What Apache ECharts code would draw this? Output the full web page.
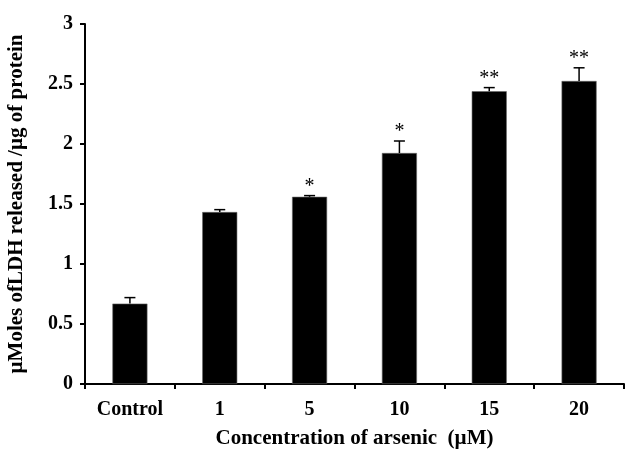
<!DOCTYPE html>
<html><head><meta charset="utf-8">
<script src="https://cdn.jsdelivr.net/npm/echarts@6/dist/echarts.min.js"></script>
<style>html,body{margin:0;padding:0;background:#fff}#c{width:625px;height:450px}</style>
</head><body><div id="c"></div>
<script>
const categories = ['Control', '1', '5', '10', '15', '20'];
const values = [0.67, 1.433, 1.56, 1.925, 2.44, 2.525];
const errors = [0.05, 0.02, 0.01, 0.1, 0.03, 0.11];
const marks = ['', '', '*', '*', '**', '**'];
const yTicks = [0, 0.5, 1, 1.5, 2, 2.5, 3];

const chart = echarts.init(document.getElementById('c'));
const font = 'Liberation Serif';
chart.setOption({
  animation: false,
  grid: { left: 85, right: 1, top: 24, bottom: 66, containLabel: false, outerBoundsMode: 'none' },
  xAxis: {
    type: 'category', data: categories,
    name: 'Concentration of arsenic  (\u00b5M)', nameLocation: 'middle', nameGap: 44,
    nameTextStyle: { fontFamily: font, fontWeight: 'bold', fontSize: 21, color: '#000' },
    axisLine: { lineStyle: { color: '#000', width: 2 } },
    axisTick: { show: true, length: 5, lineStyle: { color: '#000', width: 2 } },
    axisLabel: { fontFamily: font, fontWeight: 'bold', fontSize: 20, color: '#000', margin: 16 }
  },
  yAxis: {
    type: 'value', min: 0, max: 3, interval: 0.5,
    name: '\u00b5Moles ofLDH released /\u00b5g of protein', nameLocation: 'middle', nameGap: 58,
    nameTextStyle: { fontFamily: font, fontWeight: 'bold', fontSize: 21, color: '#000' },
    axisLine: { show: true, lineStyle: { color: '#000', width: 2 } },
    axisTick: { show: true, length: 5, lineStyle: { color: '#000', width: 2 } },
    splitLine: { show: false },
    axisLabel: { fontFamily: font, fontWeight: 'bold', fontSize: 20, color: '#000', margin: 12,
      formatter: v => yTicks.includes(v) ? String(v) : '' }
  },
  series: [
    {
      type: 'bar', data: values, barWidth: '39%',
      itemStyle: { color: '#000', borderColor: '#666', borderWidth: 0.6 }
    },
    {
      type: 'custom', z: 5,
      data: values.map((v, i) => [i, v, errors[i]]),
      renderItem: function (params, api) {
        const i = api.value(0), v = api.value(1), e = api.value(2);
        const base = api.coord([i, v]);
        const top = api.coord([i, v + e]);
        const half = 5.5;
        const children = [
          { type: 'line', shape: { x1: base[0], y1: base[1], x2: top[0], y2: top[1] }, style: { stroke: '#000', lineWidth: 1.5 } },
          { type: 'line', shape: { x1: top[0] - half, y1: top[1], x2: top[0] + half, y2: top[1] }, style: { stroke: '#000', lineWidth: 1.5 } }
        ];
        const m = marks[i];
        if (m) {
          children.push({ type: 'text', style: { text: m, x: top[0], y: top[1] + 1, align: 'center', verticalAlign: 'bottom',
            fontFamily: font, fontSize: 20, fill: '#000' } });
        }
        return { type: 'group', children };
      }
    }
  ]
});
</script></body></html>
